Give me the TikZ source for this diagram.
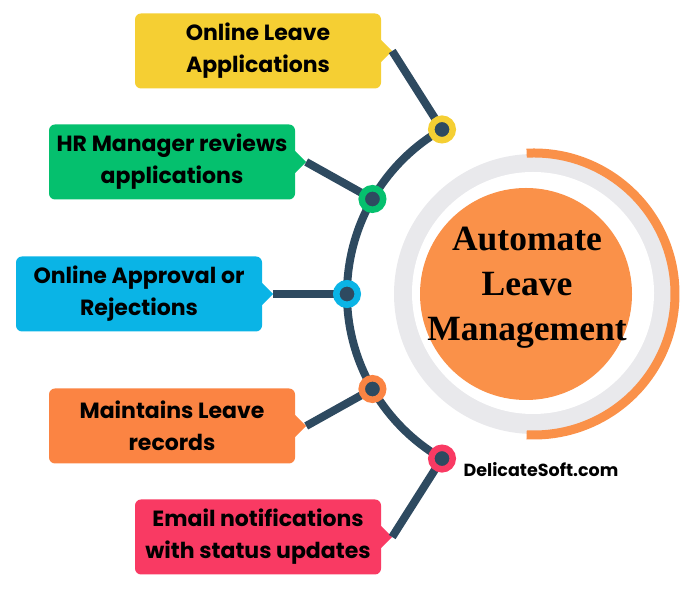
\documentclass[tikz,border=0pt]{standalone}
\usepackage{fontspec}
\setmainfont{Poppins}
\newfontfamily\titlefont{Liberation Serif}
\usepackage{xcolor}
\usetikzlibrary{calc}
\definecolor{linkslate}{HTML}{2E4A60}
\definecolor{boxyellow}{HTML}{F5CF33}
\definecolor{boxgreen}{HTML}{05C06E}
\definecolor{boxblue}{HTML}{0AB4E6}
\definecolor{boxorange}{HTML}{FB8443}
\definecolor{boxpink}{HTML}{F93A63}
\definecolor{hubgray}{HTML}{E9E9EC}
\definecolor{huborange}{HTML}{FA9149}
\tikzset{
  stepbox/.style={fill=#1, rounded corners=6pt, minimum width=246pt, minimum height=75pt,
    align=center, inner sep=0pt,
    font=\fontsize{22}{32}\selectfont\bfseries},
  link/.style={draw=linkslate, line width=8pt},
  dot/.style={circle, fill=linkslate, draw=#1, line width=6.5pt, minimum size=21.5pt, inner sep=0pt},
}

\begin{document}
\begin{tikzpicture}[x=1pt, y=1pt]
    \useasboundingbox (0,0) rectangle (690,596);
    \coordinate (C) at (537,302);

    % Hub circles on the right
    \fill[hubgray] (534,302) circle (140);
    \draw[huborange, line width=9pt] (534,302) ++(93:141) arc[start angle=93, end angle=-93, radius=141];
    \fill[white] (533,303) circle (121);
    \fill[huborange] (526,302) circle (106);
    \node[align=center, font=\titlefont\fontsize{35.5}{45}\selectfont\bfseries] (hub) at (527,308)
        {Automate\\Leave\\Management};

    % Step boxes
    \node[stepbox=boxyellow] (b1) at (258,545) {Online Leave\\Applications};
    \node[stepbox=boxgreen]  (b2) at (172,434) {HR Manager reviews\\applications};
    \node[stepbox=boxblue]   (b3) at (139,302) {Online Approval or\\Rejections};
    \node[stepbox=boxorange] (b4) at (172,170) {Maintains Leave\\records};
    \node[stepbox=boxpink]   (b5) at (258,59)  {Email notifications\\with status updates};

    % Pointers of the boxes
    \foreach \b/\c in {b1/boxyellow, b2/boxgreen, b3/boxblue, b4/boxorange, b5/boxpink} {
        \coordinate (\b t) at ([xshift=11pt]\b.east);
        \fill[\c] ([yshift=11pt]\b.east) -- (\b t) -- ([yshift=-11pt]\b.east) -- cycle;
    }

    % Points on the arc
    \coordinate (p1) at ($(C)+(120:190)$);
    \coordinate (p2) at ($(C)+(150:190)$);
    \coordinate (p3) at ($(C)+(180:190)$);
    \coordinate (p4) at ($(C)+(210:190)$);
    \coordinate (p5) at ($(C)+(240:190)$);

    % Arc and connectors
    \draw[link] (p1) arc[start angle=120, end angle=240, radius=190];
    \draw[link] (b1t) -- (p1);
    \draw[link] (b2t) -- (p2);
    \draw[link] (b3t) -- (p3);
    \draw[link] (b4t) -- (p4);
    \draw[link] (b5t) -- (p5);

    % Dots
    \node[dot=boxyellow] (d1) at (p1) {};
    \node[dot=boxgreen]  (d2) at (p2) {};
    \node[dot=boxblue]   (d3) at (p3) {};
    \node[dot=boxorange] (d4) at (p4) {};
    \node[dot=boxpink]   (d5) at (p5) {};

    % Site label
    \node[font=\fontsize{17.5}{20}\selectfont\bfseries] (site) at (541,126) {DelicateSoft.com};
\end{tikzpicture}
\end{document}
